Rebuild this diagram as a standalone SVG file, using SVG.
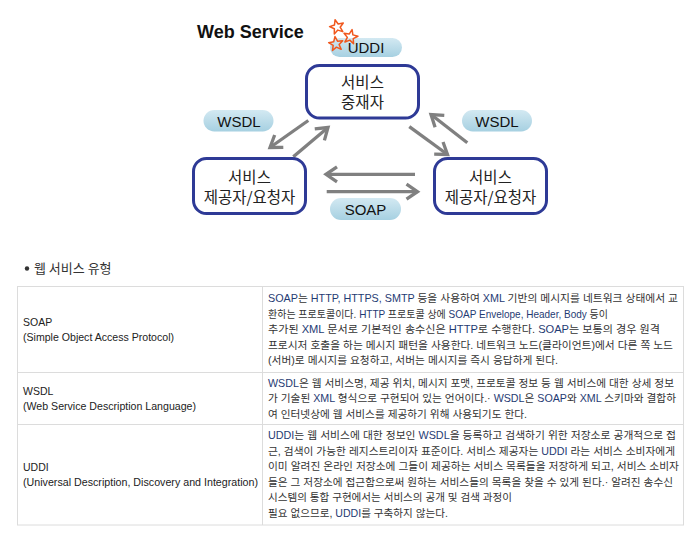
<svg xmlns="http://www.w3.org/2000/svg" width="693" height="536" viewBox="0 0 693 536">
<style>
.title{font-family:"Liberation Sans",Arial,sans-serif;font-weight:bold;font-size:18px;fill:#111}
.node rect{fill:#fff;stroke:#2e3a96;stroke-width:3}
.nl{font-family:"Noto Sans CJK KR","Liberation Sans",sans-serif;font-size:15.5px;fill:#222;text-anchor:middle}
.pill rect{fill:url(#pg)}
.pl{font-family:"Liberation Sans",Arial,sans-serif;font-size:15px;fill:#111;text-anchor:middle}
.arr{stroke:#808080;stroke-width:3.3;fill:none;marker-end:url(#ah)}
.star{fill:none;stroke:#f0581e;stroke-width:1.5;stroke-linejoin:round}
.grid{stroke:#dcdcdc;stroke-width:1;fill:none}
.lt{font-family:"Liberation Sans",Arial,"Noto Sans CJK KR",sans-serif;font-size:10.5px;fill:#222}
.rt{font-family:"Liberation Sans",Arial,"Noto Sans CJK KR",sans-serif;font-size:10.5px;fill:#333}
.en{fill:#1f3b73}
.bul{font-family:"Noto Sans CJK KR","Liberation Sans",sans-serif;font-size:13px;fill:#333}
</style>
<defs>
<linearGradient id="pg" x1="0" y1="0" x2="0" y2="1">
<stop offset="0" stop-color="#d3e9f2"/>
<stop offset="1" stop-color="#a6d0e1"/>
</linearGradient>
<marker id="ah" markerUnits="userSpaceOnUse" markerWidth="30" markerHeight="30" viewBox="-15 -15 30 30" refX="0" refY="0" orient="auto" overflow="visible">
<path d="M-11,-7.5 L0,0 L-11,7.5" fill="none" stroke="#808080" stroke-width="3.3"/>
</marker>
<path id="st" d="M0,-7.5 L1.9,-2.6 L7.1,-2.3 L3,1 L4.4,6 L0,3.2 L-4.4,6 L-3,1 L-7.1,-2.3 L-1.9,-2.6 Z"/>
</defs>
<rect width="693" height="536" fill="#fff"/>

<text class="title" x="197" y="38">Web Service</text>

<g id="connectors">
<line class="arr" x1="308.3" y1="120.5" x2="270" y2="147.5"/>
<line class="arr" x1="293.3" y1="156.7" x2="328" y2="127.5"/>
<line class="arr" x1="409.3" y1="126.7" x2="447.5" y2="154.5"/>
<line class="arr" x1="467.3" y1="142.7" x2="431" y2="114.5"/>
<line class="arr" x1="415" y1="174.3" x2="326" y2="174.3"/>
<line class="arr" x1="326.7" y1="191.7" x2="417.5" y2="191.7"/>
</g>

<g id="pill-uddi" class="pill">
<rect x="330" y="38" width="72" height="19" rx="9.5"/>
<text class="pl" x="366" y="53">UDDI</text>
</g>
<g id="stars">
<use href="#st" class="star" transform="translate(337,27) rotate(-15)"/>
<use href="#st" class="star" transform="translate(350.5,37) rotate(12)"/>
<use href="#st" class="star" transform="translate(336,44) rotate(-8)"/>
</g>

<g id="pill-wsdl-left" class="pill">
<rect x="203.5" y="110" width="70" height="21.5" rx="10.75"/>
<text class="pl" x="239" y="126.5">WSDL</text>
</g>
<g id="pill-wsdl-right" class="pill">
<rect x="462" y="110" width="70" height="21.5" rx="10.75"/>
<text class="pl" x="497" y="126.5">WSDL</text>
</g>
<g id="pill-soap" class="pill">
<rect x="330" y="198" width="71" height="22" rx="11"/>
<text class="pl" x="365.5" y="214.5">SOAP</text>
</g>

<g id="node-broker" class="node">
<rect x="306.5" y="65.5" width="112" height="52.5" rx="13"/>
<text class="nl" x="362.5" y="87.5">서비스</text>
<text class="nl" x="362.5" y="108">중재자</text>
</g>
<g id="node-left" class="node">
<rect x="193.5" y="158.5" width="112" height="55" rx="13"/>
<text class="nl" x="249.5" y="182.5">서비스</text>
<text class="nl" x="249.5" y="203">제공자/요청자</text>
</g>
<g id="node-right" class="node">
<rect x="434.5" y="158.5" width="112" height="55" rx="13"/>
<text class="nl" x="490.5" y="182.5">서비스</text>
<text class="nl" x="490.5" y="203">제공자/요청자</text>
</g>

<g id="bullet">
<circle cx="27" cy="268.5" r="2.2" fill="#333"/>
<text class="bul" x="34" y="273">웹 서비스 유형</text>
</g>

<g id="table">
<rect class="grid" x="17.5" y="286.5" width="666" height="238.5" fill="#fff"/>
<line class="grid" x1="262.5" y1="286.5" x2="262.5" y2="525"/>
<line class="grid" x1="17.5" y1="372.5" x2="683.5" y2="372.5"/>
<line class="grid" x1="17.5" y1="424.5" x2="683.5" y2="424.5"/>

<text class="lt" x="23" y="325.5">SOAP</text>
<text class="lt" x="23" y="341" textLength="151" lengthAdjust="spacingAndGlyphs">(Simple Object Access Protocol)</text>
<text class="lt" x="23" y="394.5">WSDL</text>
<text class="lt" x="23" y="410" textLength="173" lengthAdjust="spacingAndGlyphs">(Web Service Description Language)</text>
<text class="lt" x="23" y="470.5">UDDI</text>
<text class="lt" x="23" y="486" textLength="235" lengthAdjust="spacingAndGlyphs">(Universal Description, Discovery and Integration)</text>

<text class="rt" x="268" y="301.5" textLength="410" lengthAdjust="spacingAndGlyphs"><tspan class="en">SOAP</tspan>는 <tspan class="en">HTTP, HTTPS, SMTP</tspan> 등을 사용하여 <tspan class="en">XML</tspan> 기반의 메시지를 네트워크 상태에서 교</text>
<text class="rt" x="268" y="317.5" textLength="340" lengthAdjust="spacingAndGlyphs">환하는 프로토콜이다. <tspan class="en">HTTP</tspan> 프로토콜 상에 <tspan class="en">SOAP Envelope, Header, Body</tspan> 등이</text>
<text class="rt" x="268" y="333" textLength="392" lengthAdjust="spacingAndGlyphs">추가된 <tspan class="en">XML</tspan> 문서로 기본적인 송수신은 <tspan class="en">HTTP</tspan>로 수행한다. <tspan class="en">SOAP</tspan>는 보통의 경우 원격</text>
<text class="rt" x="268" y="348.5" textLength="405" lengthAdjust="spacingAndGlyphs">프로시저 호출을 하는 메시지 패턴을 사용한다. 네트워크 노드(클라이언트)에서 다른 쪽 노드</text>
<text class="rt" x="268" y="364" textLength="290" lengthAdjust="spacingAndGlyphs">(서버)로 메시지를 요청하고, 서버는 메시지를 즉시 응답하게 된다.</text>

<text class="rt" x="268" y="386.5" textLength="406" lengthAdjust="spacingAndGlyphs"><tspan class="en">WSDL</tspan>은 웹 서비스명, 제공 위치, 메시지 포맷, 프로토콜 정보 등 웹 서비스에 대한 상세 정보</text>
<text class="rt" x="268" y="402" textLength="408" lengthAdjust="spacingAndGlyphs">가 기술된 <tspan class="en">XML</tspan> 형식으로 구현되어 있는 언어이다.· <tspan class="en">WSDL</tspan>은 <tspan class="en">SOAP</tspan>와 <tspan class="en">XML</tspan> 스키마와 결합하</text>
<text class="rt" x="268" y="417.5" textLength="259" lengthAdjust="spacingAndGlyphs">여 인터넷상에 웹 서비스를 제공하기 위해 사용되기도 한다.</text>

<text class="rt" x="268" y="439" textLength="408" lengthAdjust="spacingAndGlyphs"><tspan class="en">UDDI</tspan>는 웹 서비스에 대한 정보인 <tspan class="en">WSDL</tspan>을 등록하고 검색하기 위한 저장소로 공개적으로 접</text>
<text class="rt" x="268" y="454.5" textLength="407" lengthAdjust="spacingAndGlyphs">근, 검색이 가능한 레지스트리이자 표준이다. 서비스 제공자는 <tspan class="en">UDDI</tspan> 라는 서비스 소비자에게</text>
<text class="rt" x="268" y="470" textLength="411" lengthAdjust="spacingAndGlyphs">이미 알려진 온라인 저장소에 그들이 제공하는 서비스 목록들을 저장하게 되고, 서비스 소비자</text>
<text class="rt" x="268" y="485.5" textLength="405" lengthAdjust="spacingAndGlyphs">들은 그 저장소에 접근함으로써 원하는 서비스들의 목록을 찾을 수 있게 된다.· 알려진 송수신</text>
<text class="rt" x="268" y="501" textLength="244" lengthAdjust="spacingAndGlyphs">시스템의 통합 구현에서는 서비스의 공개 및 검색 과정이</text>
<text class="rt" x="268" y="516.5" textLength="180" lengthAdjust="spacingAndGlyphs">필요 없으므로, <tspan class="en">UDDI</tspan>를 구축하지 않는다.</text>
</g>
</svg>
